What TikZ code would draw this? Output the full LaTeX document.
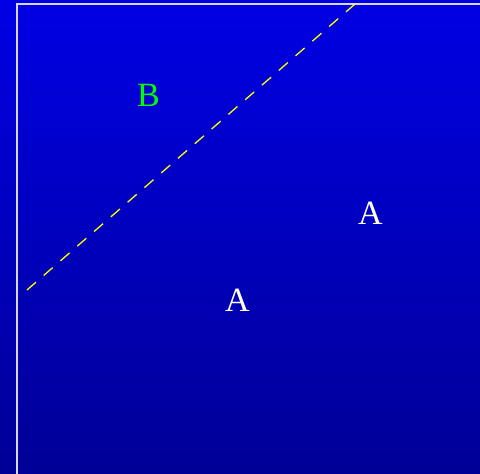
\documentclass[tikz,border=0pt]{standalone}
\usepackage{fontspec}
\setmainfont{Liberation Serif}
\usepackage{xcolor}
\definecolor{skyTop}{RGB}{0,0,228}
\definecolor{skyBottom}{RGB}{0,0,150}
\definecolor{frameLilac}{RGB}{214,214,255}
\definecolor{cutYellow}{RGB}{255,255,0}
\definecolor{labelGreen}{RGB}{0,255,0}
\begin{document}
\begin{tikzpicture}[x=0.5pt,y=-0.5pt,
  lbl/.style={inner sep=0pt,font=\fontsize{17}{20}\selectfont}]
  \useasboundingbox (0,0) rectangle (480,474);
  \shade[top color=skyTop,bottom color=skyBottom] (0,0) rectangle (480,474);
  \draw[frameLilac,line width=0.75pt] (17,480) -- (17,4) -- (485,4);
  \coordinate (cutStart) at (27,290);
  \coordinate (cutEnd) at (355,4);
  \draw[cutYellow,line width=0.65pt,dash pattern=on 6pt off 5.14pt] (cutEnd) -- (cutStart);
  \node[lbl,text=labelGreen] (regionB) at (148.5,95) {B};
  \node[lbl,text=white] (regionA) at (370.5,213.5) {A};
  \node[lbl,text=white] (regionAlow) at (237.5,300.5) {A};
\end{tikzpicture}
\end{document}
